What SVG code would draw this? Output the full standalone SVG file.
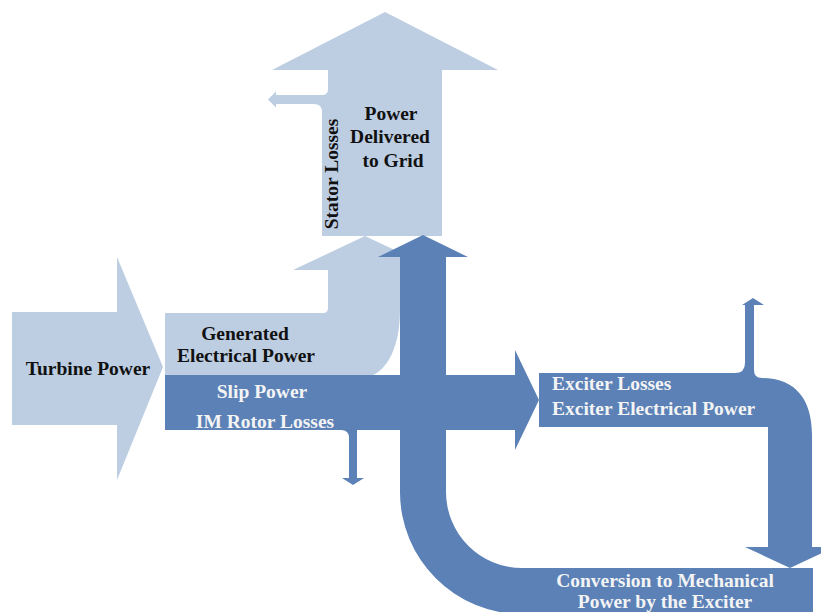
<svg xmlns="http://www.w3.org/2000/svg" width="821" height="612" viewBox="0 0 821 612">
<style>
.lt{fill:#BDCEE2}
.dk{fill:#5B81B7}
text{font-family:"Liberation Serif","Times New Roman",serif;font-weight:bold;font-size:19.5px}
.b{fill:#111}
.w{fill:#F4F4F4}
.m{text-anchor:middle}
</style>
<rect width="821" height="612" fill="#fff"/>
<g id="turbine-power">
<polygon class="lt" points="12,312 117,312 117,257 163,367 117,480 117,425 12,425"/>
<text class="b m" x="88" y="375">Turbine Power</text>
</g>
<g id="power-to-grid">
<path class="lt" d="M385,12 L498,70 L442,70 L442,236 L322,236 L322,112 Q322,104 314,104 L276,104 L276,107.5 L268,99.5 L276,91.5 L276,95 L322,95 Q328,95 328,89 L328,70 L272,70 Z"/>
<text class="b m" x="391" y="120">Power</text>
<text class="b m" x="390" y="143">Delivered</text>
<text class="b m" x="393" y="167">to Grid</text>
<text class="b m" transform="translate(338,174) rotate(-90)">Stator Losses</text>
</g>
<g id="generated-electrical-power">
<path class="lt" d="M165,313 L323,313 Q328,313 328,308 L328,270 L293,270 L365,236 L437,270 L400,270 L400,310 C400,350 385,378 360,378 L165,378 Z"/>
<text class="b m" x="245" y="340">Generated</text>
<text class="b m" x="246" y="362">Electrical Power</text>
</g>
<g id="connectors">
<path class="dk" d="M378,257 L423,235 L468,257 L446,257 L446,492 A76,76 0 0 0 522,568 L813,568 L813,614 L522,614 A122,122 0 0 1 400,492 L400,257 Z"/>
<path class="dk" d="M165,375 L515,375 L515,350 L539,400 L515,450 L515,430 L357,430 L357,478 L364,478 L353,485 L342,478 L349,478 L349,438 Q349,430 341,430 L165,430 Z"/>
<path class="dk" d="M539,373 L735,373 Q745,373 745,363 L745,305 L742,305 L753,298 L764,305 L754,305 L754,370 Q754,378 762,378 C796,378 812,400 812,435 L812,547 L835,547 L790,568 L745,547 L768,547 L768,427 L539,427 Z"/>
</g>
<g id="slip-power">
<text class="w m" x="262" y="398">Slip Power</text>
<text class="w m" x="265" y="428">IM Rotor Losses</text>
</g>
<g id="exciter">
<text class="w" x="552" y="390">Exciter Losses</text>
<text class="w" x="552" y="415">Exciter Electrical Power</text>
</g>
<g id="conversion">
<text class="w m" x="665" y="587">Conversion to Mechanical</text>
<text class="w m" x="665" y="608">Power by the Exciter</text>
</g>
</svg>
